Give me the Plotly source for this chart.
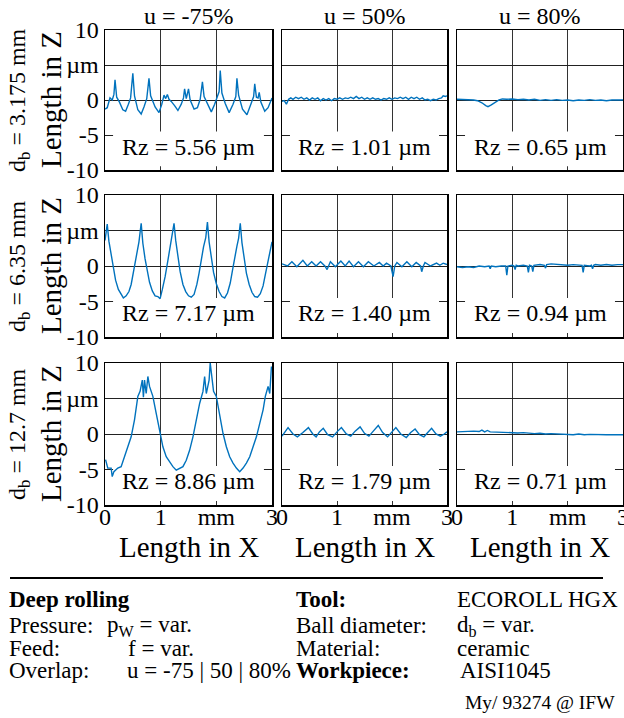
import plotly.graph_objects as go

# ---------------- data ----------------
col_titles = ["u = -75%", "u = 50%", "u = 80%"]
row_labels = ["d<sub>b</sub> = 3.175 mm", "d<sub>b</sub> = 6.35 mm", "d<sub>b</sub> = 12.7 mm"]
rz_values = [["5.56", "1.01", "0.65"], ["7.17", "1.40", "0.94"], ["8.86", "1.79", "0.71"]]

x_ticks = [0, 1, 2, 3]
x_tick_text = ["0", "1", "mm", "3"]
y_ticks = [-10, -5, 0, 5, 10]
y_tick_text = ["-10", "-5", "0", "µm", "10"]

# row 1 (db = 3.175 mm)
x_a = [0, 0.04, 0.09, 0.13, 0.16, 0.18, 0.21, 0.26, 0.32, 0.37, 0.42, 0.46, 0.50, 0.53, 0.59, 0.65,
       0.70, 0.75, 0.79, 0.82, 0.90, 0.97, 1.02, 1.06, 1.09, 1.12, 1.15, 1.19, 1.25, 1.31, 1.37,
       1.41, 1.43, 1.46, 1.50, 1.53, 1.60, 1.66, 1.71, 1.75, 1.78, 1.85, 1.91, 1.97, 2.02, 2.05,
       2.07, 2.10, 2.16, 2.23, 2.30, 2.35, 2.37, 2.40, 2.47, 2.55, 2.62, 2.67, 2.69, 2.72, 2.75,
       2.77, 2.80, 2.87, 2.93, 3.0]
z_a = [-1.3, -1.1, 0.3, 0.0, 0.8, 2.9, 0.4, -0.3, -1.4, -1.6, -0.6, 0.3, 3.8, 0.6, -1.4, -2.0,
       -1.0, 0.2, 3.1, 0.6, -1.0, -1.8, -0.6, 0.7, 0.2, 0.8, 0.1, -0.2, -0.8, -1.5, -0.6,
       0.3, 1.6, 0.2, 1.6, 0.0, -1.3, -1.1, 0.1, 2.6, 0.5, -0.8, -1.7, -0.6, 0.4, 1.2,
       4.2, 1.0, -0.5, -1.8, -0.6, 0.5, 3.1, 0.7, -1.3, -2.1, -0.6, 0.5, 2.3, 0.4, 0.3,
       1.1, -0.3, -1.6, -1.1, 0.3]

x_b = [0.00, 0.04, 0.08, 0.12, 0.16, 0.20, 0.25, 0.30, 0.35, 0.40, 0.45, 0.50, 0.55, 0.60, 0.65,
       0.70, 0.75, 0.80, 0.85, 0.90, 0.95, 1.00, 1.05, 1.10, 1.15, 1.20, 1.25, 1.30, 1.35, 1.40,
       1.45, 1.50, 1.55, 1.60, 1.65, 1.70, 1.75, 1.80, 1.85, 1.90, 1.95, 2.00, 2.05, 2.10, 2.15,
       2.20, 2.25, 2.30, 2.35, 2.40, 2.45, 2.50, 2.55, 2.60, 2.65, 2.70, 2.75, 2.80, 2.85, 2.90,
       2.93, 2.97, 3.00]
z_b = [-0.2, -0.1, -0.6, 0.1, 0.3, 0.1, 0.4, 0.2, 0.4, 0.1, 0.3, 0.0, 0.3, 0.1, 0.3,
       -0.1, 0.2, 0.0, 0.2, -0.1, 0.2, 0.1, 0.3, 0.1, 0.3, 0.2, 0.4, 0.2, 0.5, 0.2,
       0.4, 0.1, 0.3, 0.1, 0.3, 0.1, 0.2, 0.0, 0.2, 0.1, 0.3, 0.1, 0.3, 0.2, 0.4,
       0.2, 0.4, 0.1, 0.4, 0.2, 0.4, 0.1, 0.3, 0.0, 0.1, -0.1, 0.1, 0.0, 0.2, 0.3,
       0.6, 0.5, 0.6]

x_c = [0.00, 0.10, 0.20, 0.30, 0.37, 0.45, 0.52, 0.56, 0.62, 0.70, 0.76, 0.82, 0.90, 1.00, 1.10,
       1.20, 1.30, 1.40, 1.50, 1.60, 1.70, 1.80, 1.90, 2.00, 2.10, 2.20, 2.30, 2.40, 2.50, 2.60,
       2.70, 2.80, 2.90, 3.00]
z_c = [0.1, 0.05, 0.1, 0.0, -0.1, -0.4, -0.8, -0.95, -0.7, -0.3, 0.0, 0.15, 0.1, 0.15, 0.05,
       0.1, 0.0, 0.1, -0.05, 0.05, -0.05, 0.05, -0.05, 0.0, -0.1, 0.0, -0.05, 0.05, -0.05, 0.0,
       -0.1, 0.0, -0.05, 0.0]

# row 2 (db = 6.35 mm)
x_d = [0.00, 0.04, 0.07, 0.11, 0.15, 0.19, 0.24, 0.29, 0.33, 0.38, 0.43, 0.47, 0.51, 0.55, 0.58,
       0.61, 0.65, 0.68, 0.72, 0.76, 0.80, 0.85, 0.90, 0.95, 0.99, 1.03, 1.08, 1.13, 1.17, 1.21,
       1.24, 1.27, 1.31, 1.35, 1.40, 1.45, 1.50, 1.55, 1.60, 1.65, 1.69, 1.73, 1.77, 1.81, 1.84,
       1.87, 1.91, 1.95, 2.00, 2.05, 2.10, 2.15, 2.20, 2.25, 2.29, 2.33, 2.37, 2.40, 2.43, 2.46,
       2.50, 2.54, 2.59, 2.64, 2.69, 2.74, 2.79, 2.84, 2.88, 2.92, 2.96, 3.00]
z_d = [3.6, 5.9, 3.5, 1.5, -0.2, -2.0, -3.3, -4.0, -4.5, -4.2, -3.6, -2.6, -0.8, 1.2, 2.5,
       3.4, 6.0, 3.2, 1.0, -0.9, -2.3, -3.5, -4.2, -4.3, -4.6, -3.3, -1.5, 0.8, 2.6, 4.1,
       6.0, 3.6, 1.2, -0.8, -2.6, -3.6, -4.2, -4.4, -4.0, -2.6, -1.0, 1.0, 2.7, 4.0, 6.2,
       3.4, 1.1, -0.9, -2.5, -3.6, -4.3, -4.5, -3.8, -2.4, -0.6, 1.4, 2.8, 3.9, 6.0, 3.3,
       1.0, -1.0, -2.6, -3.7, -4.3, -4.4, -3.9, -2.8, -1.2, 0.3, 1.8, 3.4]

x_e = [0.00, 0.05, 0.10, 0.18, 0.27, 0.38, 0.46, 0.54, 0.62, 0.70, 0.78, 0.82, 0.88, 0.97, 1.07,
       1.15, 1.22, 1.30, 1.39, 1.48, 1.57, 1.67, 1.77, 1.84, 1.90, 1.98, 2.02, 2.05, 2.09, 2.18,
       2.27, 2.36, 2.44, 2.52, 2.54, 2.57, 2.60, 2.70, 2.81, 2.87, 2.93, 3.00]
z_e = [0.3, 0.1, 0.0, 0.6, -0.1, 0.8, 0.0, 0.6, 0.0, 0.6, 0.0, -0.5, 0.6, -0.1, 0.7,
       0.0, 0.7, -0.1, 0.6, -0.1, 0.6, 0.0, 0.5, 0.0, 0.4, 0.0, -1.5, 0.0, 0.5, -0.1,
       0.6, -0.1, 0.5, 0.0, -0.8, 0.0, 0.5, 0.0, 0.4, 0.1, 0.4, 0.2]

x_f = [0.00, 0.10, 0.20, 0.30, 0.40, 0.50, 0.58, 0.60, 0.62, 0.70, 0.80, 0.88, 0.90, 0.92, 1.00,
       1.03, 1.05, 1.07, 1.10, 1.20, 1.27, 1.29, 1.31, 1.35, 1.37, 1.39, 1.50, 1.58, 1.60, 1.62,
       1.70, 1.80, 1.90, 2.00, 2.10, 2.20, 2.26, 2.28, 2.30, 2.40, 2.43, 2.45, 2.47, 2.50, 2.60,
       2.70, 2.80, 2.90, 3.00]
z_f = [-0.1, -0.2, -0.1, -0.2, 0.0, -0.1, 0.0, -0.4, 0.0, -0.1, 0.0, 0.0, -1.3, 0.0, 0.1,
       0.0, -0.5, 0.1, 0.0, 0.1, 0.0, -0.9, 0.1, 0.0, -0.8, 0.1, 0.2, 0.1, -0.3, 0.2,
       0.3, 0.2, 0.2, 0.1, 0.2, 0.1, 0.1, -0.9, 0.1, 0.0, 0.1, -0.4, 0.1, 0.2, 0.1,
       0.2, 0.1, 0.2, 0.2]

# row 3 (db = 12.7 mm)
x_g = [0.01, 0.05, 0.11, 0.13, 0.16, 0.23, 0.29, 0.35, 0.41, 0.47, 0.53, 0.59, 0.63, 0.67, 0.69,
       0.71, 0.74, 0.77, 0.80, 0.86, 0.92, 0.98, 1.04, 1.10, 1.16, 1.22, 1.28, 1.34, 1.40, 1.46,
       1.52, 1.58, 1.64, 1.70, 1.76, 1.79, 1.82, 1.87, 1.89, 1.92, 1.95, 2.00, 2.06, 2.12, 2.18,
       2.24, 2.30, 2.36, 2.42, 2.48, 2.54, 2.60, 2.66, 2.72, 2.78, 2.84, 2.88, 2.93, 2.96, 2.99]
z_g = [-3.6, -4.8, -4.8, -6.0, -5.3, -4.8, -4.6, -3.2, -1.8, -0.4, 2.0, 5.3, 6.0, 7.6, 5.2,
       7.6, 5.7, 8.1, 6.7, 5.3, 2.9, 0.6, -1.8, -3.2, -3.9, -4.6, -5.1, -4.8, -4.6, -3.7,
       -2.3, -0.4, 2.0, 4.3, 6.0, 8.1, 5.7, 7.6, 10.0, 7.6, 6.0, 5.3, 2.4, 0.1, -1.8,
       -3.2, -4.1, -4.8, -5.3, -4.8, -4.1, -3.2, -1.8, -0.4, 1.5, 3.4, 5.3, 6.7, 5.7, 9.5]

x_h = [0.00, 0.05, 0.11, 0.20, 0.28, 0.38, 0.48, 0.56, 0.62, 0.68, 0.75, 0.83, 0.92, 1.00, 1.08,
       1.17, 1.25, 1.33, 1.42, 1.50, 1.58, 1.66, 1.75, 1.83, 1.92, 2.00, 2.07, 2.16, 2.26, 2.34,
       2.42, 2.50, 2.58, 2.65, 2.72, 2.80, 2.88, 2.95, 3.00]
z_h = [-0.3, 0.2, 0.9, 0.0, -0.4, 0.2, 0.9, 0.0, -0.4, 0.3, 0.8, -0.1, -0.4, 0.3, 0.9,
       0.0, -0.3, 0.4, 1.0, 0.1, -0.3, 0.4, 1.2, 0.2, -0.4, 0.3, 0.9, 0.0, -0.5, 0.2,
       0.7, -0.1, -0.4, 0.2, 0.8, 0.0, -0.3, 0.0, 0.3]

x_i = [0.00, 0.10, 0.20, 0.30, 0.40, 0.45, 0.50, 0.55, 0.60, 0.70, 0.80, 0.90, 1.00, 1.10, 1.20,
       1.30, 1.40, 1.50, 1.60, 1.70, 1.80, 1.90, 2.00, 2.10, 2.20, 2.30, 2.40, 2.50, 2.60, 2.70,
       2.80, 2.90, 3.00]
z_i = [0.3, 0.35, 0.3, 0.4, 0.35, 0.55, 0.3, 0.5, 0.3, 0.25, 0.3, 0.2, 0.2, 0.15, 0.2,
       0.1, 0.05, 0.1, 0.0, 0.05, 0.0, -0.05, 0.0, -0.1, 0.0, -0.1, -0.05, -0.1, -0.05, -0.1,
       -0.1, -0.05, -0.1]

profiles = [[(x_a, z_a), (x_b, z_b), (x_c, z_c)],
            [(x_d, z_d), (x_e, z_e), (x_f, z_f)],
            [(x_g, z_g), (x_h, z_h), (x_i, z_i)]]

# ---------------- layout geometry ----------------
W, H = 624, 718
col_px = [(105, 272), (282, 447), (457, 623)]
row_px = [(30, 170), (195, 337), (363, 505)]
FONT = "Liberation Serif, Times New Roman, serif"
LINE_BLUE = "#0072BD"

def px_x(p):
    return p / W

def px_y(p):
    return 1 - p / H

fig = go.Figure()
layout = dict(
    template="none",
    width=W, height=H, margin=dict(l=0, r=0, t=0, b=0, autoexpand=False),
    paper_bgcolor="white", plot_bgcolor="white", showlegend=False,
    font=dict(family=FONT, color="black", size=22),
)
shapes = []
annotations = []

for r in range(3):
    for c in range(3):
        i = r * 3 + c + 1
        sfx = "" if i == 1 else str(i)
        xs, zs = profiles[r][c]
        fig.add_trace(go.Scatter(x=xs, y=zs, mode="lines",
                                 line=dict(color=LINE_BLUE, width=1.4),
                                 xaxis="x" + sfx, yaxis="y" + sfx, hoverinfo="skip"))
        layout["xaxis" + sfx] = dict(
            domain=[px_x(col_px[c][0]), px_x(col_px[c][1])], range=[0, 3],
            anchor="y" + sfx, tickvals=x_ticks, ticktext=x_tick_text,
            showticklabels=(r == 2), ticks="", ticklen=0, automargin=False,
            ticklabelstandoff=-10, ticklabeloverflow="allow",
            showgrid=True, gridcolor="#333333", gridwidth=1, zeroline=False,
            showline=True, mirror=True, linecolor="black", linewidth=1.5,
            tickfont=dict(family=FONT, size=24, color="black"), fixedrange=True)
        layout["yaxis" + sfx] = dict(
            domain=[px_y(row_px[r][1]), px_y(row_px[r][0])], range=[-10, 10],
            anchor="x" + sfx, tickvals=y_ticks, ticktext=y_tick_text,
            showticklabels=(c == 0), ticks="", ticklen=0, automargin=False,
            ticklabeloverflow="allow",
            showgrid=True, gridcolor="#222222", gridwidth=1, zeroline=False,
            showline=True, mirror=True, linecolor="black", linewidth=1.5,
            tickfont=dict(family=FONT, size=24, color="black"), fixedrange=True)
        # white label box (covers grid, lies under the profile)
        shapes.append(dict(type="rect", xref="x" + sfx, yref="y" + sfx,
                           x0=0.145, x1=2.855, y0=-9.45, y1=-4.5,
                           fillcolor="white", line=dict(width=0), layer="between"))
        annotations.append(dict(xref="x" + sfx, yref="y" + sfx, x=1.5, y=-6.65,
                                text="Rz = " + rz_values[r][c] + " µm", showarrow=False,
                                font=dict(family=FONT, size=24, color="black"),
                                xanchor="center", yanchor="middle"))

# column titles and x titles
for c in range(3):
    cx = px_x((col_px[c][0] + col_px[c][1]) / 2)
    annotations.append(dict(xref="paper", yref="paper", x=cx, y=px_y(16),
                            text=col_titles[c], showarrow=False,
                            font=dict(family=FONT, size=24, color="black"),
                            xanchor="center", yanchor="middle"))
    annotations.append(dict(xref="paper", yref="paper", x=cx, y=px_y(547),
                            text="Length in X", showarrow=False,
                            font=dict(family=FONT, size=29, color="black"),
                            xanchor="center", yanchor="middle"))

# row labels
for r in range(3):
    cy = px_y((row_px[r][0] + row_px[r][1]) / 2)
    annotations.append(dict(xref="paper", yref="paper", x=px_x(51), y=cy,
                            text="Length in Z", showarrow=False, textangle=-90,
                            font=dict(family=FONT, size=29, color="black"),
                            xanchor="center", yanchor="middle"))
    annotations.append(dict(xref="paper", yref="paper", x=px_x(19), y=cy,
                            text=row_labels[r], showarrow=False, textangle=-90,
                            font=dict(family=FONT, size=24, color="black"),
                            xanchor="center", yanchor="middle"))

# bottom info block
shapes.append(dict(type="line", xref="paper", yref="paper",
                   x0=px_x(10), x1=px_x(603), y0=px_y(578), y1=px_y(578),
                   line=dict(color="black", width=2.2)))

info = [
    (8, 599, "<b>Deep rolling</b>"),
    (8, 625.5, "Pressure:"), (106, 625.5, "p<sub>W</sub> = var."),
    (8, 648, "Feed:"), (127, 648, "f = var."),
    (8, 670.5, "Overlap:"), (126, 670.5, "u = -75 | 50 | 80%"),
    (295, 599, "<b>Tool:</b>"), (456, 599, "ECOROLL HGX"),
    (295, 625.5, "Ball diameter:"), (456, 625.5, "d<sub>b</sub> = var."),
    (295, 648, "Material:"), (456, 648, "ceramic"),
    (295, 670.5, "<b>Workpiece:</b>"), (459, 670.5, "AISI1045"),
]
for (xp, yp, txt) in info:
    annotations.append(dict(xref="paper", yref="paper", x=px_x(xp), y=px_y(yp),
                            text=txt, showarrow=False,
                            font=dict(family=FONT, size=23, color="black"),
                            xanchor="left", yanchor="middle", borderpad=0))
annotations.append(dict(xref="paper", yref="paper", x=px_x(616), y=px_y(702.5),
                        text="My/ 93274 @ IFW", showarrow=False,
                        font=dict(family=FONT, size=19.5, color="black"),
                        xanchor="right", yanchor="middle", borderpad=0))

layout["shapes"] = shapes
layout["annotations"] = annotations
fig.update_layout(**layout)
fig.write_html("out.html", config={"displayModeBar": False, "staticPlot": True},
               post_script="document.body.style.margin='0';document.body.style.padding='0';")
